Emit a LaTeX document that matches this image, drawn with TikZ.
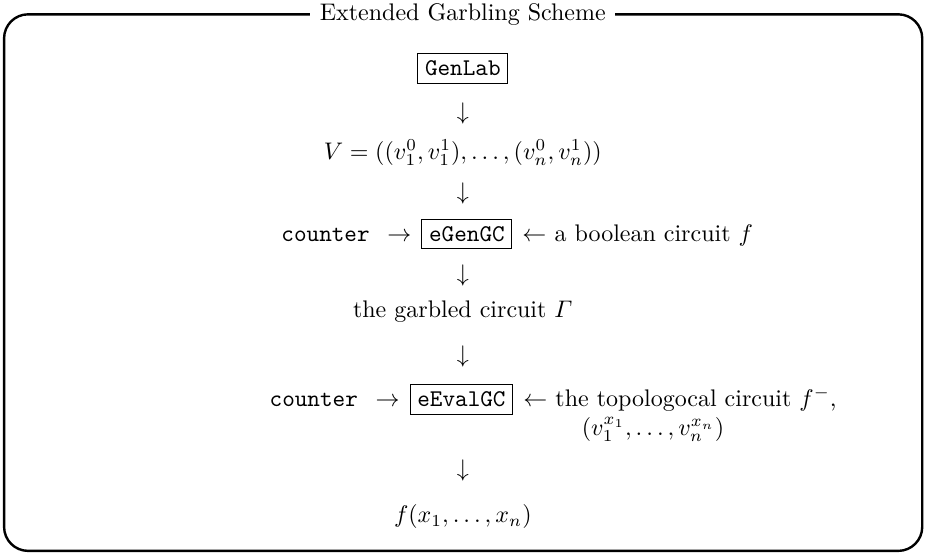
\documentclass[tikz,border=0pt]{standalone}
\usepackage{amsmath,amssymb}
\usetikzlibrary{positioning}

\tikzset{
  algbox/.style={draw, line width=0.4pt, inner sep=3pt, font=\ttfamily},
  glyph/.style={inner sep=0pt},
}

\begin{document}
\begin{tikzpicture}
\useasboundingbox (0,0) rectangle (13.58,-8.12);

% --- Frame and title ---
\draw[line width=1pt, rounded corners=10pt] (0.06,-0.21) rectangle (13.51,-8.07);
\node[fill=white, inner sep=4pt] (title) at (6.78,-0.21) {Extended Garbling Scheme};

% --- Label generation ---
\node[algbox] (genlab) at (6.78,-1.00) {GenLab};
\node[glyph] (down1) at (6.78,-1.66) {$\downarrow$};
\node[glyph] (labels) at (6.78,-2.24) {$V=((v_1^0,v_1^1),\ldots,(v_n^0,v_n^1))$};
\node[glyph] (down2) at (6.78,-2.83) {$\downarrow$};

% --- Garbling ---
\node[algbox] (gengc) at (6.84,-3.43) {eGenGC};
\node[glyph, base left=4pt of gengc] (inarrow1) {$\rightarrow$};
\node[glyph, base left=7pt of inarrow1, font=\ttfamily] (counter1) {counter};
\node[glyph, base right=4pt of gengc] (backarrow1) {$\leftarrow$};
\node[glyph, base right=3pt of backarrow1] (circuit) {a boolean circuit $f$};
\node[glyph] (down3) at (6.78,-4.03) {$\downarrow$};
\node[glyph] (garbled) at (6.78,-4.57) {the garbled circuit $\varGamma$};
\node[glyph] (down4) at (6.78,-5.22) {$\downarrow$};

% --- Evaluation ---
\node[algbox] (evalgc) at (6.76,-5.85) {eEvalGC};
\node[glyph, base left=4pt of evalgc] (inarrow2) {$\rightarrow$};
\node[glyph, base left=7pt of inarrow2, font=\ttfamily] (counter2) {counter};
\node[glyph, base right=4pt of evalgc] (backarrow2) {$\leftarrow$};
\node[glyph, base right=3pt of backarrow2] (topo) {the topologocal circuit $f^-$,};
\node[glyph, anchor=base west] (inputs) at ([xshift=11pt, yshift=-12pt]topo.base west) {$(v_1^{x_1},\ldots,v_n^{x_n})$};
\node[glyph] (down5) at (6.78,-6.89) {$\downarrow$};
\node[glyph] (result) at (6.78,-7.57) {$f(x_1,\ldots,x_n)$};

\end{tikzpicture}
\end{document}
